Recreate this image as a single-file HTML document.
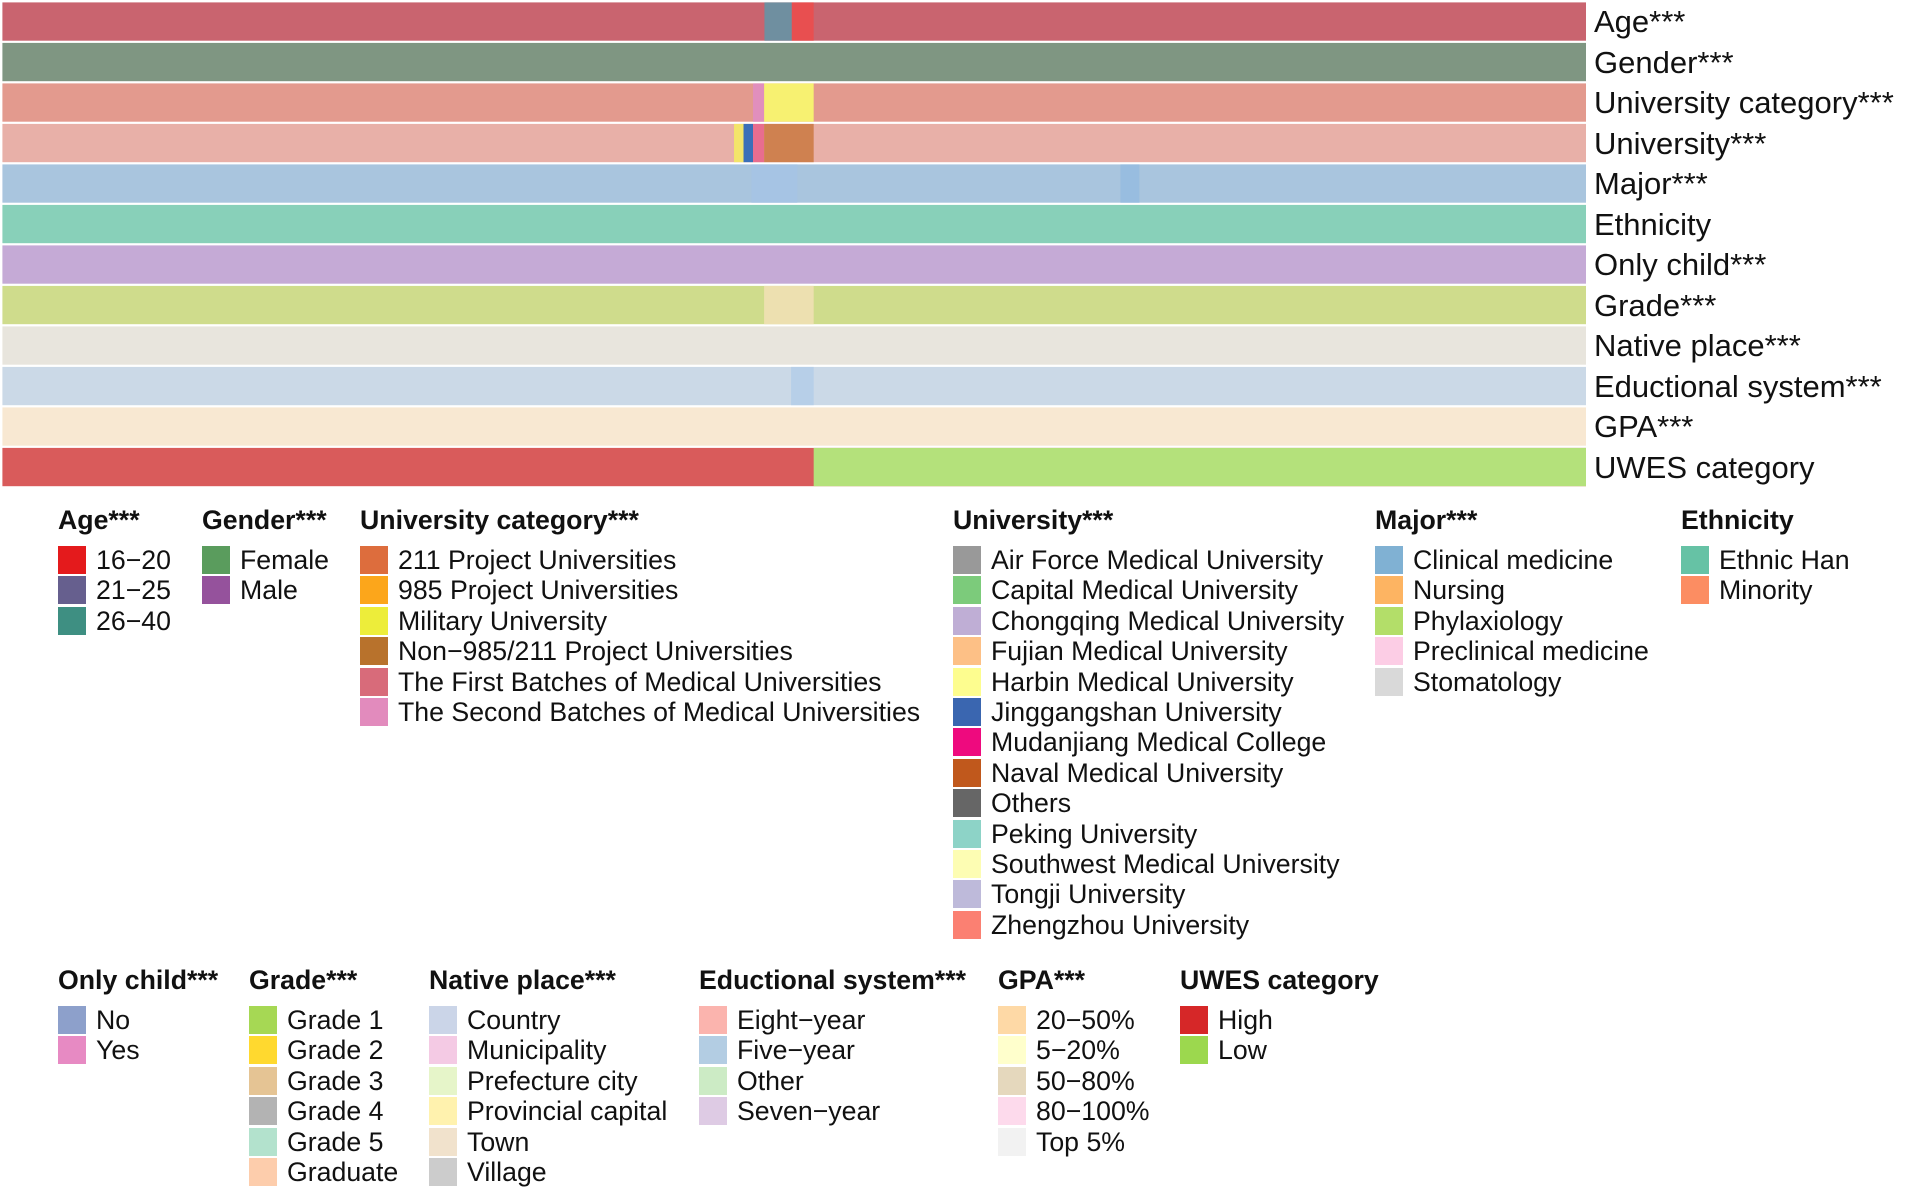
<!DOCTYPE html>
<html><head><meta charset="utf-8">
<style>
body{margin:0;width:1905px;height:1190px;background:#fff;position:relative;overflow:hidden;font-family:"Liberation Sans",sans-serif;}
.lab{position:absolute;font-size:31px;color:#111;white-space:nowrap;line-height:1}
.tt{position:absolute;font-size:26.7px;font-weight:bold;color:#111;white-space:nowrap;line-height:1}
.it{position:absolute;font-size:26.7px;color:#111;white-space:nowrap;line-height:1}
.sw{position:absolute;width:28px;height:28px}
</style></head>
<body>
<svg id="hm" width="1905" height="490" style="position:absolute;left:0;top:0"></svg>
<div id="leg"></div>
<script>
// heatmap rows: names, base colours, and highlighted blocks (sample-fraction start, end, colour)
const rowNames=["Age***","Gender***","University category***","University***","Major***","Ethnicity","Only child***","Grade***","Native place***","Eductional system***","GPA***","UWES category"];
const rowBase=["#c9646f","#7f9682","#e39a8e","#e8b0a8","#a9c5de","#88d0b9","#c5aad6","#cfdc8c","#e8e5dd","#cbd9e7","#f8e8d2","#d95b5b"];
const rowBlocks=[
 [[0.4812,0.4985,"#6f8fa0"],[0.4985,0.5123,"#e84f50"]],
 [],
 [[0.474,0.481,"#e18fbd"],[0.481,0.5123,"#f7f171"]],
 [[0.462,0.468,"#f3e46a"],[0.468,0.474,"#3b6fb8"],[0.474,0.481,"#e86d8f"],[0.481,0.5123,"#cf8150"]],
 [[0.473,0.502,"#a6c4e4"],[0.706,0.718,"#98bde0"]],
 [],[],
 [[0.481,0.5123,"#ede0b0"]],
 [],
 [[0.498,0.5123,"#b7cfe8"]],
 [],
 [[0.5123,1,"#b4e17b"]]
];
const hm=document.getElementById('hm');
const X0=2.4,X1=1586,Y0=2.4,RH=40.5,GAP=2.2;
function xs(f){return X0+f*(X1-X0);}
rowNames.forEach((n,i)=>{
 const y=Y0+i*RH;
 const r=document.createElementNS("http://www.w3.org/2000/svg","rect");
 
 
 r.setAttribute('x',X0);r.setAttribute('y',y);r.setAttribute('width',X1-X0);r.setAttribute('height',RH-GAP);r.setAttribute('fill',rowBase[i]);
 hm.appendChild(r);
 rowBlocks[i].forEach(b=>{
  const c=document.createElementNS("http://www.w3.org/2000/svg","rect");
  
  
  c.setAttribute('x',xs(b[0]));c.setAttribute('y',y);c.setAttribute('width',xs(b[1])-xs(b[0]));c.setAttribute('height',RH-GAP);c.setAttribute('fill',b[2]);
  hm.appendChild(c);
 });
 const l=document.createElement('div');
 l.className='lab';
 
 
 l.textContent=n;l.style.left='1594px';l.style.top=(y+4)+'px';
 document.body.appendChild(l);
});
// legend groups
const legTitles=["Age***","Gender***","University category***","University***","Major***","Ethnicity","Only child***","Grade***","Native place***","Eductional system***","GPA***","UWES category"];
const legX=[58,202,360,953,1375,1681,58,249,429,699,998,1180];
const legY=[520,520,520,520,520,520,980,980,980,980,980,980];
const legItems=[
 [["16−20","#e41a1c"],["21−25","#665f8e"],["26−40","#3e8f82"]],
 [["Female","#5a9c5d"],["Male","#95529c"]],
 [["211 Project Universities","#dd6d3d"],["985 Project Universities","#fca61b"],["Military University","#eded3a"],["Non−985/211 Project Universities","#b8722c"],["The First Batches of Medical Universities","#d86b7a"],["The Second Batches of Medical Universities","#e28bbd"]],
 [["Air Force Medical University","#999999"],["Capital Medical University","#7ccb7b"],["Chongqing Medical University","#bfaed5"],["Fujian Medical University","#fdc086"],["Harbin Medical University","#fdfd8f"],["Jinggangshan University","#3a66b0"],["Mudanjiang Medical College","#ee0a7e"],["Naval Medical University","#c0581c"],["Others","#666666"],["Peking University","#8dd3c7"],["Southwest Medical University","#fdfdb3"],["Tongji University","#bebada"],["Zhengzhou University","#fb8072"]],
 [["Clinical medicine","#80b1d3"],["Nursing","#fdb462"],["Phylaxiology","#b3de69"],["Preclinical medicine","#fccde5"],["Stomatology","#d9d9d9"]],
 [["Ethnic Han","#66c2a5"],["Minority","#fc8d62"]],
 [["No","#8da0cb"],["Yes","#e78ac3"]],
 [["Grade 1","#a6d854"],["Grade 2","#ffd92f"],["Grade 3","#e5c494"],["Grade 4","#b3b3b3"],["Grade 5","#b3e2cd"],["Graduate","#fdcdac"]],
 [["Country","#cbd5e8"],["Municipality","#f4cae4"],["Prefecture city","#e6f5c9"],["Provincial capital","#fff2ae"],["Town","#f1e2cc"],["Village","#cccccc"]],
 [["Eight−year","#fbb4ae"],["Five−year","#b3cde3"],["Other","#ccebc5"],["Seven−year","#decbe4"]],
 [["20−50%","#fed9a6"],["5−20%","#ffffcc"],["50−80%","#e5d8bd"],["80−100%","#fddaec"],["Top 5%","#f2f2f2"]],
 [["High","#d62728"],["Low","#9cd84e"]]
];
legTitles.forEach((t,g)=>{
 const d=document.createElement('div');
 d.className='tt';
 
 
 d.textContent=t;d.style.left=legX[g]+'px';d.style.top=(legY[g]-13)+'px';
 document.body.appendChild(d);
 legItems[g].forEach((it,k)=>{
  const cy=legY[g]+40+k*30.4;
  const s=document.createElement('div');
  s.className='sw';
  
  
  s.style.left=legX[g]+'px';s.style.top=(cy-14)+'px';s.style.background=it[1];
  document.body.appendChild(s);
  const tx=document.createElement('div');
  tx.className='it';
  
  
  tx.textContent=it[0];tx.style.left=(legX[g]+38)+'px';tx.style.top=(cy-13)+'px';
  document.body.appendChild(tx);
 });
});
</script>
</body></html>
